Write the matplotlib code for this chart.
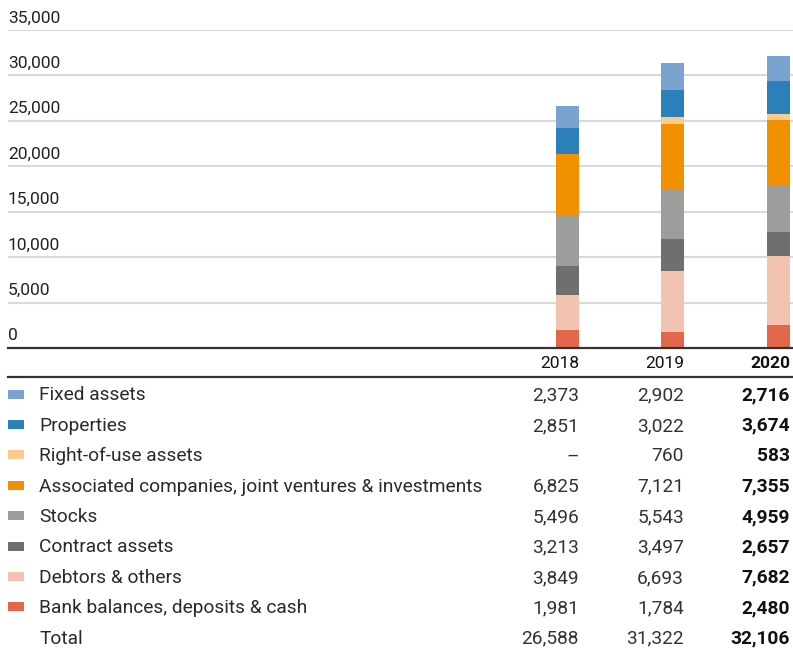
import numpy as np
import matplotlib
matplotlib.use("Agg")
from matplotlib import pyplot as plt
from matplotlib.patches import Rectangle

plt.rcParams['font.family'] = ['Roboto', 'DejaVu Sans']

years = ["2018", "2019", "2020"]
# top-to-bottom as listed in the table
categories = ["Fixed assets", "Properties", "Right-of-use assets",
              "Associated companies, joint ventures & investments",
              "Stocks", "Contract assets", "Debtors & others",
              "Bank balances, deposits & cash"]
fixed_assets = [2373, 2902, 2716]
properties = [2851, 3022, 3674]
right_of_use = [None, 760, 583]
associated = [6825, 7121, 7355]
stocks = [5496, 5543, 4959]
contract_assets = [3213, 3497, 2657]
debtors = [3849, 6693, 7682]
bank = [1981, 1784, 2480]
totals = [26588, 31322, 32106]
y_ticks = [0, 5000, 10000, 15000, 20000, 25000, 30000, 35000]

series = [fixed_assets, properties, right_of_use, associated,
          stocks, contract_assets, debtors, bank]
colours = ["#7BA3CF", "#2B80B9", "#FDCB8E", "#F29100",
           "#9D9D9C", "#6F6F6E", "#F2C3B0", "#E2674B"]

W, H = 793, 651
fig = plt.figure(figsize=(W / 100, H / 100), dpi=100)

# chart area, x in pixel units
left, right, top, base = 8, 793, 30, 348
ax = fig.add_axes([left / W, (H - base) / H, (right - left) / W, (base - top) / H])
ax.set_xlim(left, right)
ax.set_ylim(0, 35000)
ax.axis("off")

col_right = [579, 684, 790]
bar_w = 23
xs = np.array(col_right) - bar_w / 2

for t in y_ticks:
    if t > 0:
        ax.axhline(t, color="#d9d9d9", lw=1.5, zorder=0)
    ax.text(left, t + 500, f"{t:,}", fontsize=12.5, color="#222222",
            ha="left", va="bottom")

bottom = np.zeros(len(years))
for vals, c in zip(series[::-1], colours[::-1]):
    v = np.array([0 if x is None else x for x in vals], dtype=float)
    ax.bar(xs, v, width=bar_w, bottom=bottom, color=c, zorder=2)
    bottom += v

# table overlay in pixel coords
tb = fig.add_axes([0, 0, 1, 1])
tb.set_xlim(0, W)
tb.set_ylim(H, 0)
tb.axis("off")

tb.plot([left, right], [348, 348], color="#333333", lw=1.6)
tb.plot([left, right], [377, 377], color="#333333", lw=1.6)

for i, y in enumerate(years):
    tb.text(col_right[i], 364, y, fontsize=12.5, ha="right", va="center",
            color="#111111", fontweight="bold" if i == 2 else "normal")

fs = 13.8
row_y0, row_dy = 395.5, 30.4
for r, (name, vals, c) in enumerate(zip(categories, series, colours)):
    y = row_y0 + r * row_dy
    tb.add_patch(Rectangle((8, y - 6), 16, 9, color=c, lw=0))
    tb.text(39, y, name, fontsize=fs, ha="left", va="center", color="#2a2a2a")
    for i, v in enumerate(vals):
        s = "–" if v is None else f"{v:,}"
        tb.text(col_right[i], y, s, fontsize=fs, ha="right", va="center",
                color="#111111" if i == 2 else "#333333",
                fontweight="bold" if i == 2 else "normal")

y = row_y0 + len(categories) * row_dy
tb.text(39, y, "Total", fontsize=fs, ha="left", va="center", color="#2a2a2a")
for i, v in enumerate(totals):
    tb.text(col_right[i], y, f"{v:,}", fontsize=fs, ha="right", va="center",
            color="#111111" if i == 2 else "#333333",
            fontweight="bold" if i == 2 else "normal")

fig.savefig("out.png", dpi=100)
